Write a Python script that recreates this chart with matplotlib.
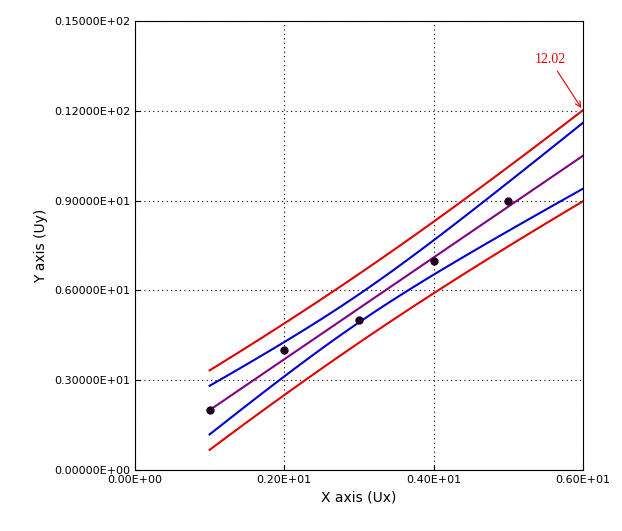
import numpy as np
import matplotlib.pyplot as plt
from matplotlib.ticker import FuncFormatter

# measured data
x_data = [1, 2, 3, 4, 5]
y_data = [2, 4, 5, 7, 9]
t_val = 3.32          # multiplier used by the original tool
x_end = 6.0
label_val = "12.02"

def sci(v, nd):
    if v == 0:
        return "0." + "0" * nd + "E+00"
    e = int(np.floor(np.log10(abs(v)))) + 1
    m = v / 10 ** e
    return f"{m:.{nd}f}E{e:+03d}"

x = np.array(x_data, float)
y = np.array(y_data, float)
n = len(x)
b, a = np.polyfit(x, y, 1)
s = np.sqrt(np.sum((y - (a + b * x)) ** 2) / (n - 2))
sxx = np.sum((x - x.mean()) ** 2)

xs = np.linspace(1, x_end, 100)
fit = a + b * xs
h_mean = t_val * s * np.sqrt(1 / n + (xs - x.mean()) ** 2 / sxx)
h_pred = t_val * s * np.sqrt(1 + 1 / n + (xs - x.mean()) ** 2 / sxx)

fig = plt.figure(figsize=(6.22, 5.31), dpi=100)
ax = fig.add_axes([0.217, 0.115, 0.72, 0.845])
ax.plot(xs, fit + h_pred, color='#e00000', lw=1.5)
ax.plot(xs, fit - h_pred, color='#e00000', lw=1.5)
ax.plot(xs, fit + h_mean, color='#0000d0', lw=1.5)
ax.plot(xs, fit - h_mean, color='#0000d0', lw=1.5)
ax.plot(xs, fit, color='#800080', lw=1.5)
ax.plot(x, y, 'o', color='#200020', ms=5)

ax.set_xlim(0, 6)
ax.set_ylim(0, 15)
ax.set_xticks([0, 2, 4, 6])
ax.set_yticks([0, 3, 6, 9, 12, 15])
ax.xaxis.set_major_formatter(FuncFormatter(lambda v, p: sci(v, 2)))
ax.yaxis.set_major_formatter(FuncFormatter(lambda v, p: sci(v, 5)))
ax.tick_params(labelsize=8, direction='in')
ax.grid(True, color='black', linestyle=(0, (1, 3)), lw=0.8)
ax.set_xlabel('X axis (Ux)', fontsize=10)
ax.set_ylabel('Y axis (Uy)', fontsize=10)

y_end = (fit + h_pred)[-1]
ax.annotate(label_val, xy=(x_end, y_end), xytext=(5.35, 13.6),
            color='#e00000', fontsize=10, family='Liberation Serif',
            arrowprops=dict(arrowstyle='->', color='#e00000', lw=0.8),
            annotation_clip=False)

fig.savefig('out.png')
